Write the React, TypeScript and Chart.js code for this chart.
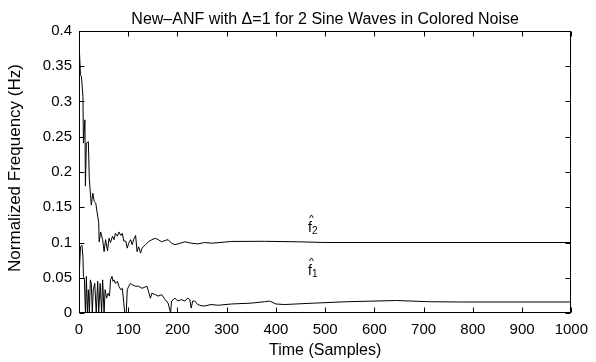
import React, { useEffect, useRef } from "react";
import { Chart, registerables } from "chart.js";

Chart.register(...registerables);

const TITLE = "New\u2013ANF with \u0394=1 for 2 Sine Waves in Colored Noise";
const X_LABEL = "Time (Samples)";
const Y_LABEL = "Normalized Frequency (Hz)";

const X_MIN = 0;
const X_MAX = 1000;
const X_STEP = 100;
const Y_MIN = 0;
const Y_MAX = 0.4;
const Y_STEP = 0.05;

// estimate of f2 (upper) track
const F2_X = [0, 3, 5, 8, 9, 12, 13, 15, 19, 21, 25, 28, 31, 34, 40, 41, 44, 48, 51, 54, 58, 61, 64, 68, 71, 74, 78, 81, 85, 88, 91, 95, 98, 101, 105, 108, 111, 115, 118, 121, 125, 128, 135, 141, 148, 155, 161, 168, 175, 181, 188, 195, 201, 215, 228, 242, 255, 270, 310, 377, 444, 500, 1000];
const F2_Y = [0.385, 0.338, 0.335, 0.307, 0.241, 0.274, 0.18, 0.241, 0.243, 0.189, 0.153, 0.17, 0.158, 0.156, 0.128, 0.101, 0.115, 0.104, 0.087, 0.104, 0.088, 0.106, 0.1, 0.109, 0.104, 0.113, 0.109, 0.115, 0.11, 0.113, 0.102, 0.102, 0.092, 0.099, 0.104, 0.097, 0.104, 0.11, 0.087, 0.094, 0.085, 0.092, 0.097, 0.101, 0.104, 0.106, 0.104, 0.101, 0.103, 0.104, 0.099, 0.097, 0.098, 0.101, 0.099, 0.098, 0.1, 0.099, 0.1015, 0.1017, 0.101, 0.1, 0.1];

// estimate of f1 (lower) track
const F1_X = [0, 3, 6, 8, 9, 11, 13, 15, 17, 19, 21, 23, 25, 27, 29, 32, 35, 38, 40, 43, 46, 48, 51, 53, 56, 59, 62, 64, 67, 69, 71, 74, 78, 81, 85, 88, 91, 93, 96, 98, 101, 105, 108, 115, 121, 128, 138, 141, 145, 148, 155, 161, 168, 175, 181, 186, 188, 195, 201, 208, 215, 221, 225, 228, 231, 235, 241, 250, 256, 268, 283, 310, 350, 377, 387, 400, 417, 477, 544, 645, 712, 779, 1000];
const F1_Y = [0.047, 0.094, 0.096, 0.08, 0.052, 0.047, 0, 0.052, 0, 0.033, 0, 0.047, 0.042, 0, 0.033, 0.042, 0, 0.045, 0, 0.042, 0, 0.047, 0, 0.033, 0.021, 0.028, 0.024, 0.047, 0.052, 0.045, 0.047, 0.042, 0.045, 0.038, 0.033, 0.035, 0.014, 0, 0, 0.033, 0.038, 0.042, 0.04, 0.038, 0.038, 0.035, 0.038, 0.031, 0.021, 0.028, 0.026, 0.024, 0.026, 0.019, 0.014, 0, 0.017, 0.021, 0.017, 0.019, 0.017, 0.021, 0.019, 0.007, 0.017, 0.017, 0.012, 0.01, 0.01, 0.012, 0.011, 0.0128, 0.014, 0.016, 0.017, 0.0128, 0.012, 0.014, 0.016, 0.0177, 0.016, 0.0156, 0.0156];

const CURVE_LABELS = [
  { sub: "2", x: 465, y: 0.115 },
  { sub: "1", x: 465, y: 0.054 },
];

const FONT = "'Liberation Sans', Arial, Helvetica, sans-serif";

const framePlugin = {
  id: "matlabFrame",
  afterDraw(chart: any) {
    const { ctx, chartArea: a, scales } = chart;
    const xs = scales.x;
    const ys = scales.y;
    ctx.save();
    ctx.strokeStyle = "#000";
    ctx.lineWidth = 1;
    const L = Math.round(a.left) + 0.5;
    const R = Math.round(a.right) - 0.5;
    const T = Math.round(a.top) + 0.5;
    const B = Math.round(a.bottom) - 0.5;
    ctx.strokeRect(L, T, R - L, B - T);
    const tl = 5;
    ctx.beginPath();
    for (let v = X_MIN; v <= X_MAX + 1e-9; v += X_STEP) {
      const px = Math.round(xs.getPixelForValue(v)) + 0.5;
      ctx.moveTo(px, B);
      ctx.lineTo(px, B - tl);
      ctx.moveTo(px, T);
      ctx.lineTo(px, T + tl);
    }
    for (let i = 0; i * Y_STEP <= Y_MAX + 1e-9; i++) {
      const py = Math.round(ys.getPixelForValue(i * Y_STEP)) + 0.5;
      ctx.moveTo(L, py);
      ctx.lineTo(L + tl, py);
      ctx.moveTo(R, py);
      ctx.lineTo(R - tl, py);
    }
    ctx.stroke();

    ctx.fillStyle = "#000";
    // title
    ctx.font = `16px ${FONT}`;
    ctx.textAlign = "center";
    ctx.textBaseline = "alphabetic";
    ctx.fillText(TITLE, (a.left + a.right) / 2, 24);
    // x label
    ctx.font = `16px ${FONT}`;
    ctx.fillText(X_LABEL, (a.left + a.right) / 2, 355);
    // y label
    ctx.save();
    ctx.font = `17px ${FONT}`;
    ctx.translate(20, 168);
    ctx.rotate(-Math.PI / 2);
    ctx.fillText(Y_LABEL, 0, 0);
    ctx.restore();

    // curve labels f-hat
    for (const lab of CURVE_LABELS) {
      const px = xs.getPixelForValue(lab.x);
      const py = ys.getPixelForValue(lab.y);
      ctx.textAlign = "left";
      ctx.font = `14px ${FONT}`;
      ctx.fillText("f", px, py);
      ctx.font = `10px ${FONT}`;
      ctx.fillText(lab.sub, px + 4, py + 2);
      ctx.beginPath();
      ctx.lineWidth = 0.9;
      const cx = px + 3.5;
      const top = py - 17;
      ctx.moveTo(cx - 2, top + 3);
      ctx.lineTo(cx, top);
      ctx.lineTo(cx + 2, top + 3);
      ctx.stroke();
    }
    ctx.restore();
  },
};

export default function App() {
  const ref = useRef<HTMLCanvasElement | null>(null);
  useEffect(() => {
    if (!ref.current) return;
    const mk = (xsArr: number[], ysArr: number[]) => xsArr.map((x, i) => ({ x, y: ysArr[i] }));
    const chart = new Chart(ref.current, {
      type: "scatter",
      data: {
        datasets: [
          { data: mk(F2_X, F2_Y), showLine: true, borderColor: "#000", borderWidth: 1, pointRadius: 0, tension: 0 },
          { data: mk(F1_X, F1_Y), showLine: true, borderColor: "#000", borderWidth: 1, pointRadius: 0, tension: 0 },
        ],
      },
      options: {
        animation: false,
        responsive: false,
        events: [],
        layout: { padding: { top: 31, right: 20, left: 0, bottom: 0 } },
        plugins: { legend: { display: false }, tooltip: { enabled: false }, title: { display: false } },
        scales: {
          x: {
            type: "linear",
            min: X_MIN,
            max: X_MAX,
            ticks: {
              stepSize: X_STEP,
              padding: 8,
              color: "#000",
              font: { family: FONT, size: 15 },
              maxRotation: 0,
              autoSkip: false,
              callback: (v: any) => String(Math.round(Number(v))),
            },
            grid: { display: false, drawTicks: false },
            border: { display: false },
            afterFit: (s: any) => { s.height = 49; },
          },
          y: {
            type: "linear",
            min: Y_MIN,
            max: Y_MAX,
            ticks: {
              stepSize: Y_STEP,
              padding: 7,
              color: "#000",
              font: { family: FONT, size: 15 },
              autoSkip: false,
              callback: (v: any) => String(Number(Number(v).toFixed(2))),
            },
            grid: { display: false, drawTicks: false },
            border: { display: false },
            afterFit: (s: any) => { s.width = 79; },
          },
        },
      },
      plugins: [framePlugin],
    });
    return () => chart.destroy();
  }, []);
  return (
    <div style={{ position: "absolute", left: 0, top: 0, width: 596, height: 362, background: "#fff" }}>
      <canvas ref={ref} width={596} height={362} />
    </div>
  );
}
